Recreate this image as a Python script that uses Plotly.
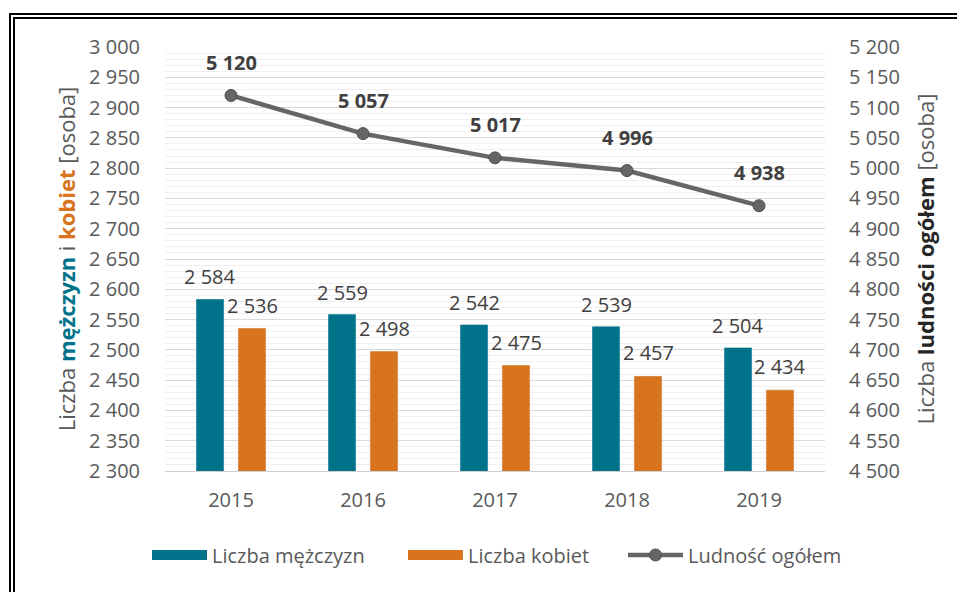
import plotly.graph_objects as go

years = ["2015", "2016", "2017", "2018", "2019"]
men = [2584, 2559, 2542, 2539, 2504]
women = [2536, 2498, 2475, 2457, 2434]
total = [5120, 5057, 5017, 4996, 4938]

left_ticks = list(range(2300, 3001, 50))
right_ticks = list(range(4500, 5201, 50))

TEAL = "#00738A"
ORANGE = "#D8731E"
GRAY_LINE = "#666666"
TXT = "#595959"
LBL = "#404040"
FONT = "Open Sans"
FS = 20


def fmt(v):
    return f"{v:,}".replace(",", " ")


fig = go.Figure()
fig.add_trace(go.Bar(x=years, y=men, name="Liczba mężczyzn", marker_color=TEAL,
                     showlegend=False, offsetgroup="m"))
fig.add_trace(go.Bar(x=years, y=women, name="Liczba kobiet", marker_color=ORANGE,
                     showlegend=False, offsetgroup="k"))
# legend proxies for wide swatches (no visible points)
fig.add_trace(go.Scatter(x=years[:1], y=[None], mode="lines", name="Liczba mężczyzn",
                         line=dict(color=TEAL, width=14), hoverinfo="skip", legend="legend"))
fig.add_trace(go.Scatter(x=years[:1], y=[None], mode="lines", name="Liczba kobiet",
                         line=dict(color=ORANGE, width=14), hoverinfo="skip", legend="legend2"))
fig.add_trace(go.Scatter(x=years, y=total, name="Ludność ogółem", yaxis="y2",
                         mode="lines+markers", legend="legend3",
                         line=dict(color=GRAY_LINE, width=4.5),
                         marker=dict(size=12, color=GRAY_LINE,
                                     line=dict(color="#4D4D4D", width=1))))

ann = []
for i, (m, w, t) in enumerate(zip(men, women, total)):
    ann.append(dict(x=i, y=m, xref="x", yref="y", text=fmt(m), showarrow=False,
                    xshift=-21, yshift=22, yanchor="middle",
                    font=dict(family=FONT, size=FS, color=LBL)))
    ann.append(dict(x=i, y=w, xref="x", yref="y", text=fmt(w), showarrow=False,
                    xshift=21, yshift=23, yanchor="middle",
                    font=dict(family=FONT, size=FS, color=LBL)))
    ann.append(dict(x=i, y=t, xref="x", yref="y2", text="<b>" + fmt(t) + "</b>",
                    showarrow=False, yshift=33, yanchor="middle",
                    font=dict(family=FONT, size=FS, color=LBL)))

# page pixel -> paper coords (plot area 165..825 x 47..471 on the page)
x0p, wp = 165, 660
y0p, hp = 471, 424
def px(p):
    return (p - x0p) / wp
def py(p):
    return (y0p - p) / hp

shapes = [
    dict(type="rect", xref="paper", yref="paper", x0=px(10), x1=px(1200),
         y0=py(14), y1=py(900), line=dict(color="black", width=2)),
    dict(type="rect", xref="paper", yref="paper", x0=px(14), x1=px(1200),
         y0=py(18), y1=py(900), line=dict(color="black", width=2)),
]

TFS = 22
leg_common = dict(orientation="h", xanchor="left", y=py(555), yanchor="middle",
                  font=dict(size=FS, color=TXT), itemwidth=55, bgcolor="rgba(0,0,0,0)")

fig.update_layout(
    width=965, height=592,
    margin=dict(l=157, r=148, t=39, b=129),
    paper_bgcolor="white", plot_bgcolor="white",
    separators=", ",
    bargap=0.364, bargroupgap=0.333, barmode="group",
    font=dict(family=FONT, size=FS, color=TXT),
    xaxis=dict(type="category", categoryorder="array", categoryarray=years,
               range=[-0.5, len(years) - 0.5], autorange=False,
               showgrid=False, showline=True, linecolor="#D0D0D0",
               linewidth=1, ticks="", tickfont=dict(size=FS, color=TXT),
               ticklabelstandoff=11),
    yaxis=dict(range=[2300, 3000], tickvals=left_ticks, tickformat=",d",
               showgrid=True, gridcolor="#D9D9D9", gridwidth=1, zeroline=False,
               minor=dict(dtick=10, tick0=2300, showgrid=True, gridcolor="#EFEFEF"),
               tickfont=dict(size=FS, color=TXT), ticklabelstandoff=24,
               title=dict(text="Liczba <b><span style='color:" + TEAL + "'>mężczyzn</span></b> i "
                               "<b><span style='color:" + ORANGE + "'>kobiet</span></b> [osoba]",
                          font=dict(size=TFS, color=TXT), standoff=7)),
    yaxis2=dict(range=[4500, 5200], tickvals=right_ticks, tickformat=",d",
                overlaying="y", side="right", showgrid=False, zeroline=False,
                tickfont=dict(size=FS, color=TXT), ticklabelstandoff=23,
                title=dict(text="Liczba <b><span style='color:#262626'>ludności ogółem</span></b> [osoba]",
                           font=dict(size=TFS, color=TXT), standoff=19)),
    legend=dict(x=px(147), **leg_common),
    legend2=dict(x=px(403), **leg_common),
    legend3=dict(x=px(623), **leg_common),
    annotations=ann,
    shapes=shapes,
)

fig.write_html("out.html")
